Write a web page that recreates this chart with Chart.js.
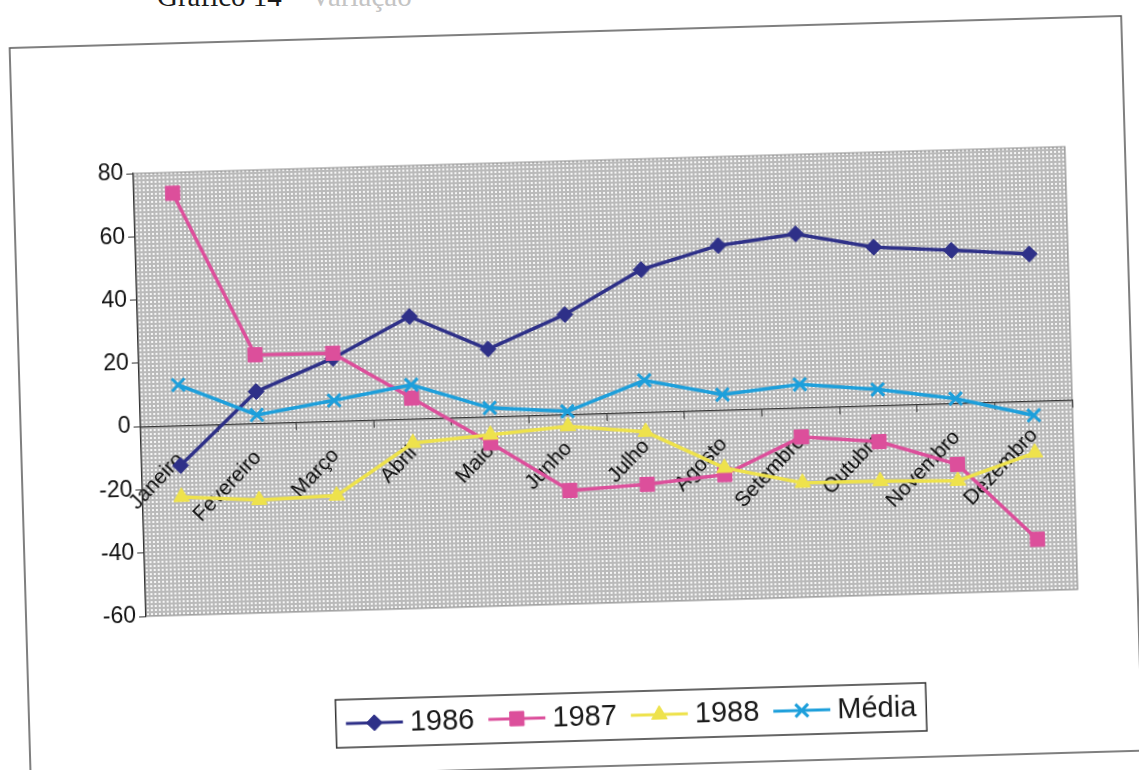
<!DOCTYPE html>
<html>
<head>
<meta charset="utf-8">
<script src="https://cdn.jsdelivr.net/npm/chart.js@4.4.1/dist/chart.umd.min.js"></script>
<style>
  html, body { margin: 0; padding: 0; background: #fff; overflow: hidden; }
  body { width: 1139px; height: 770px; position: relative; }
  #titulo {
    position: absolute; left: 157px; top: -18px;
    font: 29px/29px "Liberation Serif", "DejaVu Serif", serif;
    color: #1a1a1a; white-space: nowrap;
  }
  #titulo span { color: #c4c4c4; }
  #grafico {
    position: absolute; left: 0; top: 0;
    transform: rotate(-1.65deg); transform-origin: 570px 400px;
  }
</style>
</head>
<body>
<div id="titulo">Gráfico 14 – <span>Variação</span></div>
<canvas id="grafico" width="1139" height="770"></canvas>
<script>
// meses e séries (variação, %)
var meses = ['Janeiro', 'Fevereiro', 'Março', 'Abril', 'Maio', 'Junho',
             'Julho', 'Agosto', 'Setembro', 'Outubro', 'Novembro', 'Dezembro'];
var serie1986 = [-12.7, 10.0, 19.8, 32.3, 21.3, 31.5, 45.0, 51.9, 54.9, 50.0, 48.3, 46.4];
var serie1987 = [73.4, 21.6, 21.4, 6.5, -8.4, -24.1, -22.9, -20.5, -9.3, -11.5, -19.4, -43.8];
var serie1988 = [-22.6, -24.3, -23.6, -7.7, -5.8, -3.8, -6.3, -18.4, -23.8, -24.0, -24.6, -16.4];
var serieMedia = [12.8, 2.6, 6.5, 10.7, 2.7, 0.9, 10.0, 4.8, 7.3, 5.0, 1.4, -4.6];
var eixoY = { min: -60, max: 80, passo: 20 };

var fonteY = { family: 'Liberation Sans, Arial, sans-serif', size: 23 };
var fonteX = { family: 'Liberation Sans, Arial, sans-serif', size: 21 };

// fundo pontilhado da área de plotagem
function padraoPontilhado(ctx) {
    var c = document.createElement('canvas');
    c.width = 4; c.height = 4;
    var g = c.getContext('2d');
    g.fillStyle = '#bababa';
    g.fillRect(0, 0, 4, 4);
    g.fillStyle = '#f6f6f6';
    g.fillRect(1, 1, 2, 2);
    return ctx.createPattern(c, 'repeat');
}

var fundoPlot = {
    id: 'fundoPlot',
    beforeDraw: function (chart) {
        var ctx = chart.ctx, a = chart.chartArea;
        ctx.save();
        ctx.strokeStyle = '#555';
        ctx.lineWidth = 1.5;
        ctx.strokeRect(20, 32, 1112, 735);
        ctx.fillStyle = padraoPontilhado(ctx);
        ctx.fillRect(a.left, a.top, a.width, a.height);
        ctx.strokeStyle = '#8a8a8a';
        ctx.lineWidth = 1;
        ctx.strokeRect(a.left, a.top, a.width, a.height);
        ctx.restore();
    }
};

// legenda com linha + marcador, dentro de uma caixa
var legendaCaixa = {
    id: 'legendaCaixa',
    afterDraw: function (chart) {
        var ctx = chart.ctx;
        var ds = chart.data.datasets;
        var linha = 57, gapTxt = 7, gapItem = 14, pad = 10;
        ctx.save();
        ctx.font = '29px Liberation Sans, Arial, sans-serif';
        var total = pad * 2 - gapItem;
        ds.forEach(function (d) { total += linha + gapTxt + ctx.measureText(d.label).width + gapItem; });
        var cx = 622, cy = 717, h = 48;
        var x0 = cx - total / 2;
        ctx.fillStyle = '#fff';
        ctx.fillRect(x0, cy - h / 2, total, h);
        ctx.strokeStyle = '#333';
        ctx.lineWidth = 1.5;
        ctx.strokeRect(x0, cy - h / 2, total, h);
        var x = x0 + pad;
        ds.forEach(function (d) {
            ctx.strokeStyle = d.borderColor;
            ctx.lineWidth = 3;
            ctx.beginPath();
            ctx.moveTo(x, cy);
            ctx.lineTo(x + linha, cy);
            ctx.stroke();
            ctx.fillStyle = d.pointBackgroundColor;
            ctx.strokeStyle = d.pointBorderColor;
            ctx.lineWidth = d.pointBorderWidth;
            Chart.helpers.drawPoint(ctx, {
                pointStyle: d.pointStyle, radius: d.pointRadius,
                rotation: 0, borderWidth: d.pointBorderWidth
            }, x + linha / 2, cy);
            x += linha + gapTxt;
            ctx.fillStyle = '#1a1a1a';
            ctx.textBaseline = 'middle';
            ctx.textAlign = 'left';
            ctx.fillText(d.label, x, cy + 1);
            x += ctx.measureText(d.label).width + gapItem;
        });
        ctx.restore();
    }
};

function serie(label, dados, cor, estilo, raio, ordem) {
    return {
        label: label,
        data: dados,
        borderColor: cor,
        borderWidth: 3.5,
        pointStyle: estilo,
        pointRadius: raio,
        pointBackgroundColor: cor,
        pointBorderColor: cor,
        pointBorderWidth: estilo === 'crossRot' ? 3 : 1,
        tension: 0,
        fill: false,
        order: ordem
    };
}

var ctx = document.getElementById('grafico').getContext('2d');
var grafico = new Chart(ctx, {
    type: 'line',
    data: {
        labels: meses,
        datasets: [
            serie('1986', serie1986, '#2e3088', 'rectRot', 8, 4),
            serie('1987', serie1987, '#dc4f9b', 'rect', 10, 3),
            serie('1988', serie1988, '#eee24c', 'triangle', 9, 2),
            serie('Média', serieMedia, '#1d9fdb', 'crossRot', 9, 1)
        ]
    },
    options: {
        responsive: false,
        animation: false,
        layout: { padding: { left: 78, top: 161, right: 67, bottom: 166 } },
        plugins: { legend: { display: false }, tooltip: { enabled: false } },
        scales: {
            x: {
                position: { y: 0 },
                offset: true,
                grid: { drawOnChartArea: false, offset: true, tickLength: 7, color: '#333' },
                border: { color: '#333', width: 1.2 },
                ticks: {
                    autoSkip: false, maxRotation: 45, minRotation: 45,
                    font: fonteX, color: '#111', padding: 15
                }
            },
            y: {
                min: eixoY.min,
                max: eixoY.max,
                ticks: { stepSize: eixoY.passo, font: fonteY, color: '#111', padding: 3 },
                grid: { drawOnChartArea: false, tickLength: 7, color: '#333' },
                border: { color: '#333', width: 1.2 },
                afterFit: function (s) { s.width = 62; }
            }
        }
    },
    plugins: [fundoPlot, legendaCaixa]
});
</script>
</body>
</html>
